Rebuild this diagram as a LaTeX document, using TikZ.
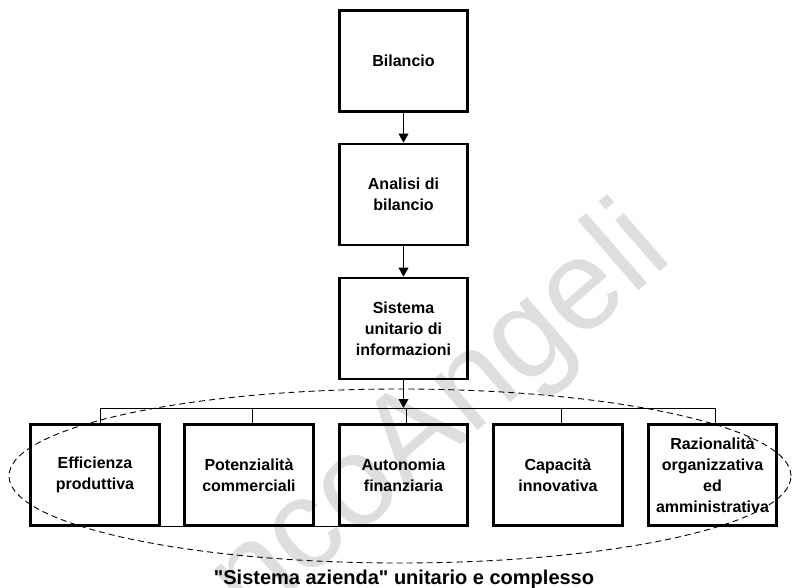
\documentclass[tikz,border=0pt]{standalone}
\usepackage{fontspec}
\setmainfont{Liberation Sans}
% same family, no TeX quote ligatures, so " stays straight
\newfontfamily\plainsans{Liberation Sans}
\usetikzlibrary{arrows.meta}
\begin{document}
\begin{tikzpicture}[x=1pt,y=-1pt,
  box/.style={draw=black, line width=2.6pt, inner sep=2pt, align=center,
    minimum width=128.5pt, minimum height=101pt,
    font=\bfseries\fontsize{16}{21}\selectfont},
  flow/.style={line width=1.8pt, -{Triangle[length=9pt,width=9.5pt]}},
  hair/.style={line width=1pt},
  halo/.style={line width=0.9pt, dash pattern=on 6pt off 4pt},
  wmark/.style={rotate=41, anchor=base west, inner sep=0pt, text=black!13,
    font=\plainsans\fontsize{128}{128}\selectfont}]
\useasboundingbox (0,0) rectangle (793,588);

% publisher mark behind everything
\node[wmark] (wm) at (106,754) {FrancoAngeli};

% main chain
\node[box] (bil) at (403.5,61)    {Bilancio};
\node[box] (ana) at (403.5,194.5) {Analisi di\\bilancio};
\node[box] (sis) at (403.5,328.5) {Sistema\\unitario di\\informazioni};

% the five areas
\node[box] (b1) at (95,475)    {Efficienza\\produttiva};
\node[box] (b2) at (249,475)   {Potenzialità\\commerciali};
\node[box] (b3) at (403.5,475) {Autonomia\\finanziaria};
\node[box] (b4) at (558,475)   {Capacità\\innovativa};
\node[box] (b5) at (712.5,475) {Razionalità\\organizzativa\\ed\\amministrativa};

\draw[flow] (bil.south) -- (ana.north);
\draw[flow] (ana.south) -- (sis.north);

% distribution bus
\coordinate (busL) at (100,408);
\coordinate (busR) at (715,408);
\draw[hair] (busL) -- (busR);
\foreach \n/\dx in {b1/5,b2/3,b3/3,b4/3,b5/2.5}{
  \path ([xshift=\dx pt]\n.north) coordinate (t\n);
  \draw[hair] (t\n) -- (t\n |- busL);
}
\draw[flow] (sis.south) -- (sis.south |- busL);
\draw[hair] (b1.south east) -- (b3.south west);

% enclosing system outline
\draw[halo] (400,476) ellipse [x radius=391pt, y radius=87pt];

\node[anchor=base, inner sep=0pt, font=\plainsans\bfseries\fontsize{20}{24}\selectfont] (cap)
  at (404,584) {"Sistema azienda" unitario e complesso};
\end{tikzpicture}
\end{document}
